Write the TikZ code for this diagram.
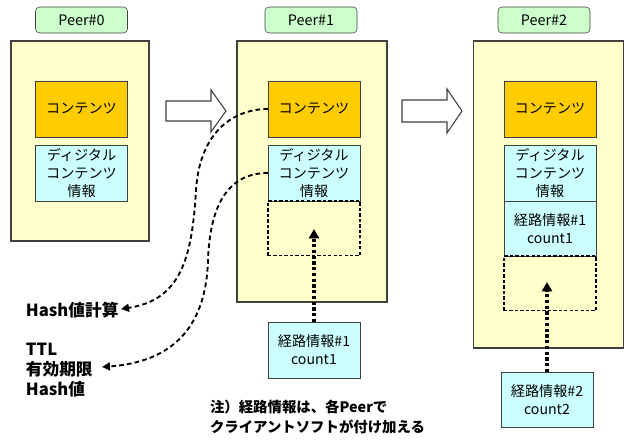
\documentclass[tikz,border=0pt]{standalone}
\usepackage{fontspec}
\setmainfont{Noto Sans CJK JP}
\usetikzlibrary{arrows.meta}
\definecolor{peerfill}{HTML}{FFFFCC}
\definecolor{contfill}{HTML}{FFCC00}
\definecolor{infofill}{HTML}{CCFFFF}
\definecolor{labfill}{HTML}{CCFFCC}
\definecolor{edge}{HTML}{404040}
\begin{document}
\begin{tikzpicture}[x=0.75pt,y=-0.75pt,
  every node/.style={inner sep=0pt,outer sep=0pt},
  peerlabel/.style={draw=edge,fill=labfill,rounded corners=3pt,minimum width=69pt,minimum height=19.5pt,font=\fontsize{10.8}{12}\selectfont},
  peerbox/.style={draw=edge,fill=peerfill,line width=0.8pt},
  contbox/.style={draw=edge,fill=contfill,minimum width=69pt,minimum height=42pt,font=\fontsize{10.6}{13.5}\selectfont},
  infobox/.style={draw=edge,fill=infofill,minimum width=69pt,minimum height=42pt,align=center,font=\fontsize{10.6}{13.5}\selectfont},
  slotbox/.style={draw=black,dash pattern=on 2.5pt off 1.6pt,line width=1pt,minimum width=69pt,minimum height=41pt},
  bigtext/.style={align=left,font=\fontsize{12.5}{15}\selectfont\bfseries},
  notetext/.style={align=left,font=\fontsize{10.8}{15}\selectfont\bfseries},
  curvearrow/.style={draw=black,line width=1.4pt,dash pattern=on 3.5pt off 2.4pt,-{Triangle[length=6pt,width=6pt]}},
  pusharrow/.style={draw=black,line width=2.6pt,dash pattern=on 2.4pt off 1.9pt,-{Triangle[length=7pt,width=7.5pt]}},
  blockarrow/.style={draw=edge,fill=white,line width=0.8pt}
]
\useasboundingbox (0,0) rectangle (625,441);

% Peer#0
\node[peerlabel] (l0) at (81.5,20) {Peer\#0};
\node[peerbox,minimum width=103.5pt,minimum height=150pt] (b0) at (80,141) {};
\node[contbox] (c0) at (81.5,109) {コンテンツ};
\node[infobox] (i0) at (81.5,173) {ディジタル\\コンテンツ\\情報};

% Peer#1
\node[peerlabel] (l1) at (311,20) {Peer\#1};
\node[peerbox,minimum width=112.5pt,minimum height=195.75pt] (b1) at (312,171.5) {};
\node[contbox] (c1) at (314,109) {コンテンツ};
\node[infobox] (i1) at (314,173) {ディジタル\\コンテンツ\\情報};
\node[slotbox] (s1) at (314,228.5) {};
\node[infobox,minimum height=42pt] (r1) at (314,350) {経路情報\#1\\count1};

% Peer#2
\node[peerlabel] (l2) at (544,20) {Peer\#2};
\node[peerbox,minimum width=113pt,minimum height=230.25pt] (b2) at (548.5,194.5) {};
\node[contbox] (c2) at (550,109) {コンテンツ};
\node[infobox] (i2) at (550,173) {ディジタル\\コンテンツ\\情報};
\node[infobox,minimum height=41.25pt] (q2) at (550,228.5) {経路情報\#1\\count1};
\node[slotbox] (s2) at (550,283.5) {};
\node[infobox,minimum height=41.25pt] (r2) at (547,399.5) {経路情報\#2\\count2};

% block arrows
\draw[blockarrow] (166,101) -- (211,101) -- (211,90) -- (226,111) -- (211,132) -- (211,121) -- (166,121) -- cycle;
\draw[blockarrow] (402,100) -- (447,100) -- (447,89) -- (462,111) -- (447,133) -- (447,122) -- (402,122) -- cycle;

% left labels
\node[bigtext,anchor=west] (hash) at (26,310) {Hash値計算};
\node[bigtext,anchor=west] (ttl) at (26,370) {TTL\\有効期限\\Hash値};
\coordinate (hashend) at (121,309);
\coordinate (ttlend) at (102,367);

% note
\node[notetext,anchor=north west] (note) at (210,400) {注）経路情報は、各Peerで\\クライアントソフトが付け加える};

% curves
\draw[curvearrow] (c1.west) .. controls (235,109) and (200,130) .. (196,190) .. controls (192,260) and (180,300) .. (hashend);
\draw[curvearrow] (i1.west) .. controls (228,173) and (210,205) .. (208,260) .. controls (206,330) and (170,362) .. (ttlend);

% push arrows
\draw[pusharrow] (r1.north) -- (314,229);
\draw[pusharrow] (r2.north) -- (547,282);
\end{tikzpicture}
\end{document}
